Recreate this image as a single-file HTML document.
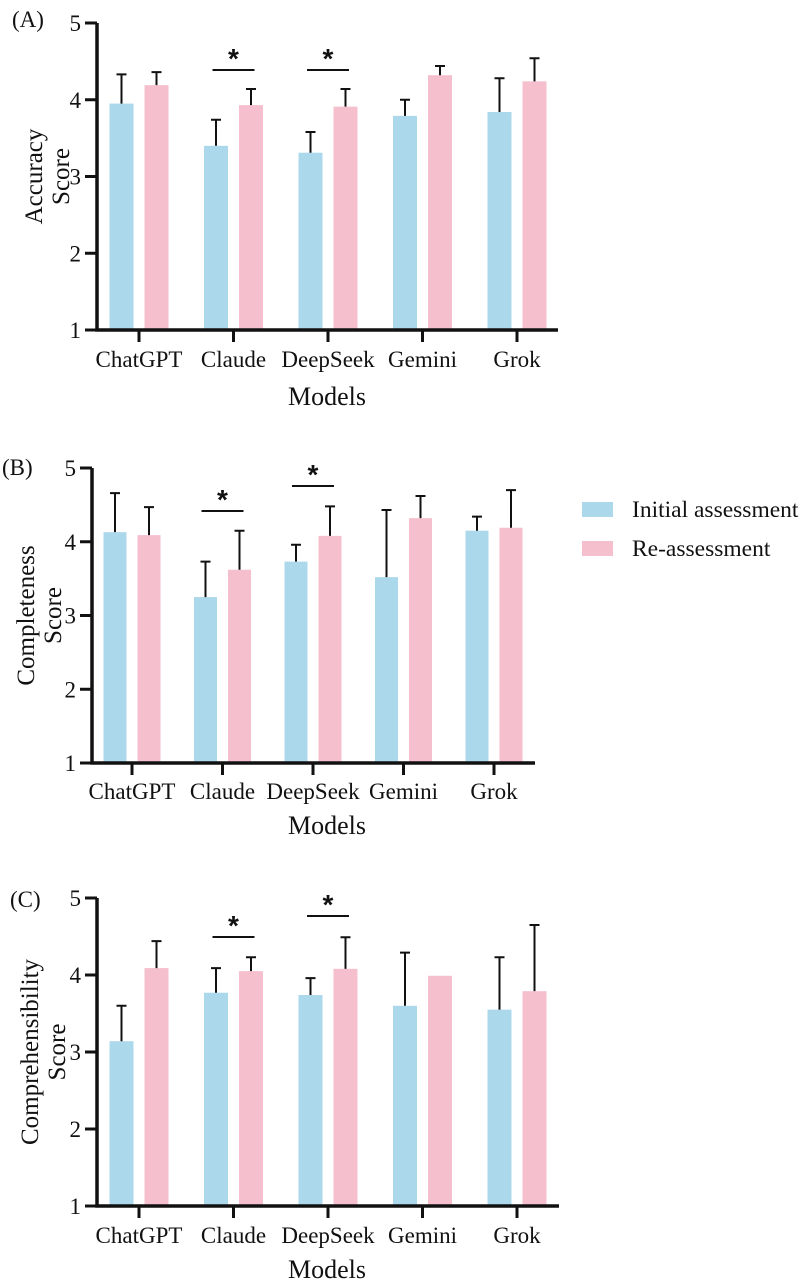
<!DOCTYPE html>
<html><head><meta charset="utf-8">
<style>
html,body{margin:0;padding:0;background:#fff;}
svg{display:block;font-family:"Liberation Serif",serif;}
</style></head>
<body>
<svg id="chart" width="807" height="1284" viewBox="0 0 807 1284" xmlns="http://www.w3.org/2000/svg"></svg>
<script>
const categories = ["ChatGPT","Claude","DeepSeek","Gemini","Grok"];
const yTicks = [1,2,3,4,5];
const accInitial = [3.95,3.40,3.31,3.79,3.84];
const accInitialErr = [4.33,3.74,3.58,4.00,4.28];
const accRe = [4.19,3.93,3.91,4.32,4.24];
const accReErr = [4.36,4.14,4.14,4.44,4.54];
const compInitial = [4.13,3.25,3.73,3.52,4.15];
const compInitialErr = [4.66,3.73,3.96,4.43,4.34];
const compRe = [4.09,3.62,4.08,4.32,4.19];
const compReErr = [4.47,4.15,4.48,4.62,4.70];
const compreInitial = [3.14,3.77,3.74,3.60,3.55];
const compreInitialErr = [3.60,4.09,3.96,4.29,4.23];
const compreRe = [4.09,4.05,4.08,3.99,3.79];
const compreReErr = [4.44,4.23,4.49,null,4.65];
const sigCategories = ["Claude","DeepSeek"];

const NS="http://www.w3.org/2000/svg";
const svg=document.getElementById('chart');
function mk(tag,attrs,parent){const e=document.createElementNS(NS,tag);for(const k in attrs)e.setAttribute(k,attrs[k]);(parent||svg).appendChild(e);return e;}

const panels=[
 {key:"a",label:"(A)",lx:12,ly:27,title:["Accuracy","Score"],tx:46,x0:97,x1:558,c0:139,step:94.5,yTop:23,yBot:330,half:17.5,bw:24,
  ini:accInitial,iniE:accInitialErr,re:accRe,reE:accReErr,sigY:[70,70],modelsY:405,ticksY:367},
 {key:"b",label:"(B)",lx:2,ly:475,title:["Completeness","Score"],tx:38,x0:92,x1:535,c0:132,step:90.5,yTop:468,yBot:763,half:17,bw:23,
  ini:compInitial,iniE:compInitialErr,re:compRe,reE:compReErr,sigY:[511,486],modelsY:834,ticksY:799},
 {key:"c",label:"(C)",lx:10,ly:907,title:["Comprehensibility","Score"],tx:42,x0:97,x1:559,c0:139,step:94.5,yTop:898,yBot:1206,half:17.5,bw:24,
  ini:compreInitial,iniE:compreInitialErr,re:compreRe,reE:compreReErr,sigY:[937,916],modelsY:1278,ticksY:1243}
];

panels.forEach(p=>{
  const g=mk('g',{});
  
  
  const y=v=>p.yBot-(v-1)*(p.yBot-p.yTop)/4;
  const xc=i=>p.c0+i*p.step;
  const lab=mk('text',{x:p.lx,y:p.ly,'font-size':23,fill:'#111'},g);lab.textContent=p.label;
  
  
  categories.forEach((c,i)=>{
    [[p.ini,p.iniE,'#acd8ec','initial',-1],[p.re,p.reE,'#f5bfcd','re',1]].forEach(s=>{
      const cx=xc(i)+s[4]*p.half;
      const r=mk('rect',{x:cx-p.bw/2,y:y(s[0][i]),width:p.bw,height:y(1)-y(s[0][i]),fill:s[2]},g);
      
      
      if(s[1][i]!=null){
        const e=mk('path',{d:`M${cx} ${y(s[0][i])}V${y(s[1][i])}M${cx-5} ${y(s[1][i])}H${cx+5}`,stroke:'#111','stroke-width':2,fill:'none'},g);
        
        
      }
    });
    const t=mk('path',{d:`M${xc(i)} ${p.yBot}v12`,stroke:'#111','stroke-width':3},g);
    
    
    const tl=mk('text',{x:xc(i),y:p.ticksY,'font-size':23,'text-anchor':'middle',fill:'#111'},g);tl.textContent=c;
    
    
  });
  const ax=mk('path',{d:`M${p.x0} ${p.yTop}V${p.yBot}H${p.x1}`,stroke:'#111','stroke-width':3.5,fill:'none'},g);
  
  
  yTicks.forEach(v=>{
    const t=mk('path',{d:`M${p.x0-12} ${y(v)}H${p.x0}`,stroke:'#111','stroke-width':3},g);
    
    
    const tl=mk('text',{x:p.x0-16,y:y(v)+8,'font-size':23,'text-anchor':'end',fill:'#111'},g);tl.textContent=v;
    
    
  });
  const cy=(p.yTop+p.yBot)/2;
  const tt=mk('text',{transform:`translate(${p.tx},${cy}) rotate(-90)`,'font-size':25,'text-anchor':'middle',fill:'#111'},g);
  
  
  const s1=mk('tspan',{x:0,dy:-4},tt);s1.textContent=p.title[0];
  const s2=mk('tspan',{x:0,dy:27},tt);s2.textContent=p.title[1];
  const mt=mk('text',{x:327,y:p.modelsY,'font-size':26,'text-anchor':'middle',fill:'#111'},g);mt.textContent="Models";
  
  
  sigCategories.forEach((c,k)=>{
    const i=categories.indexOf(c);
    const ly=p.sigY[k];
    const l=mk('path',{d:`M${xc(i)-21} ${ly}H${xc(i)+21}`,stroke:'#111','stroke-width':2},g);
    
    
    const st=mk('text',{x:xc(i),y:ly-2,'font-size':28,'font-family':'Liberation Sans, sans-serif','font-weight':'bold','text-anchor':'middle',fill:'#111'},g);st.textContent="*";
    
    
  });
});
const lg=mk('g',{});


[["Initial assessment","#acd8ec",502],["Re-assessment","#f5bfcd",541]].forEach(e=>{
  const r=mk('rect',{x:582,y:e[2],width:31,height:15,fill:e[1]},lg);
  
  
  const t=mk('text',{x:632,y:e[2]+15,'font-size':23.5,fill:'#111'},lg);t.textContent=e[0];
  
  
});
</script>
</body></html>
